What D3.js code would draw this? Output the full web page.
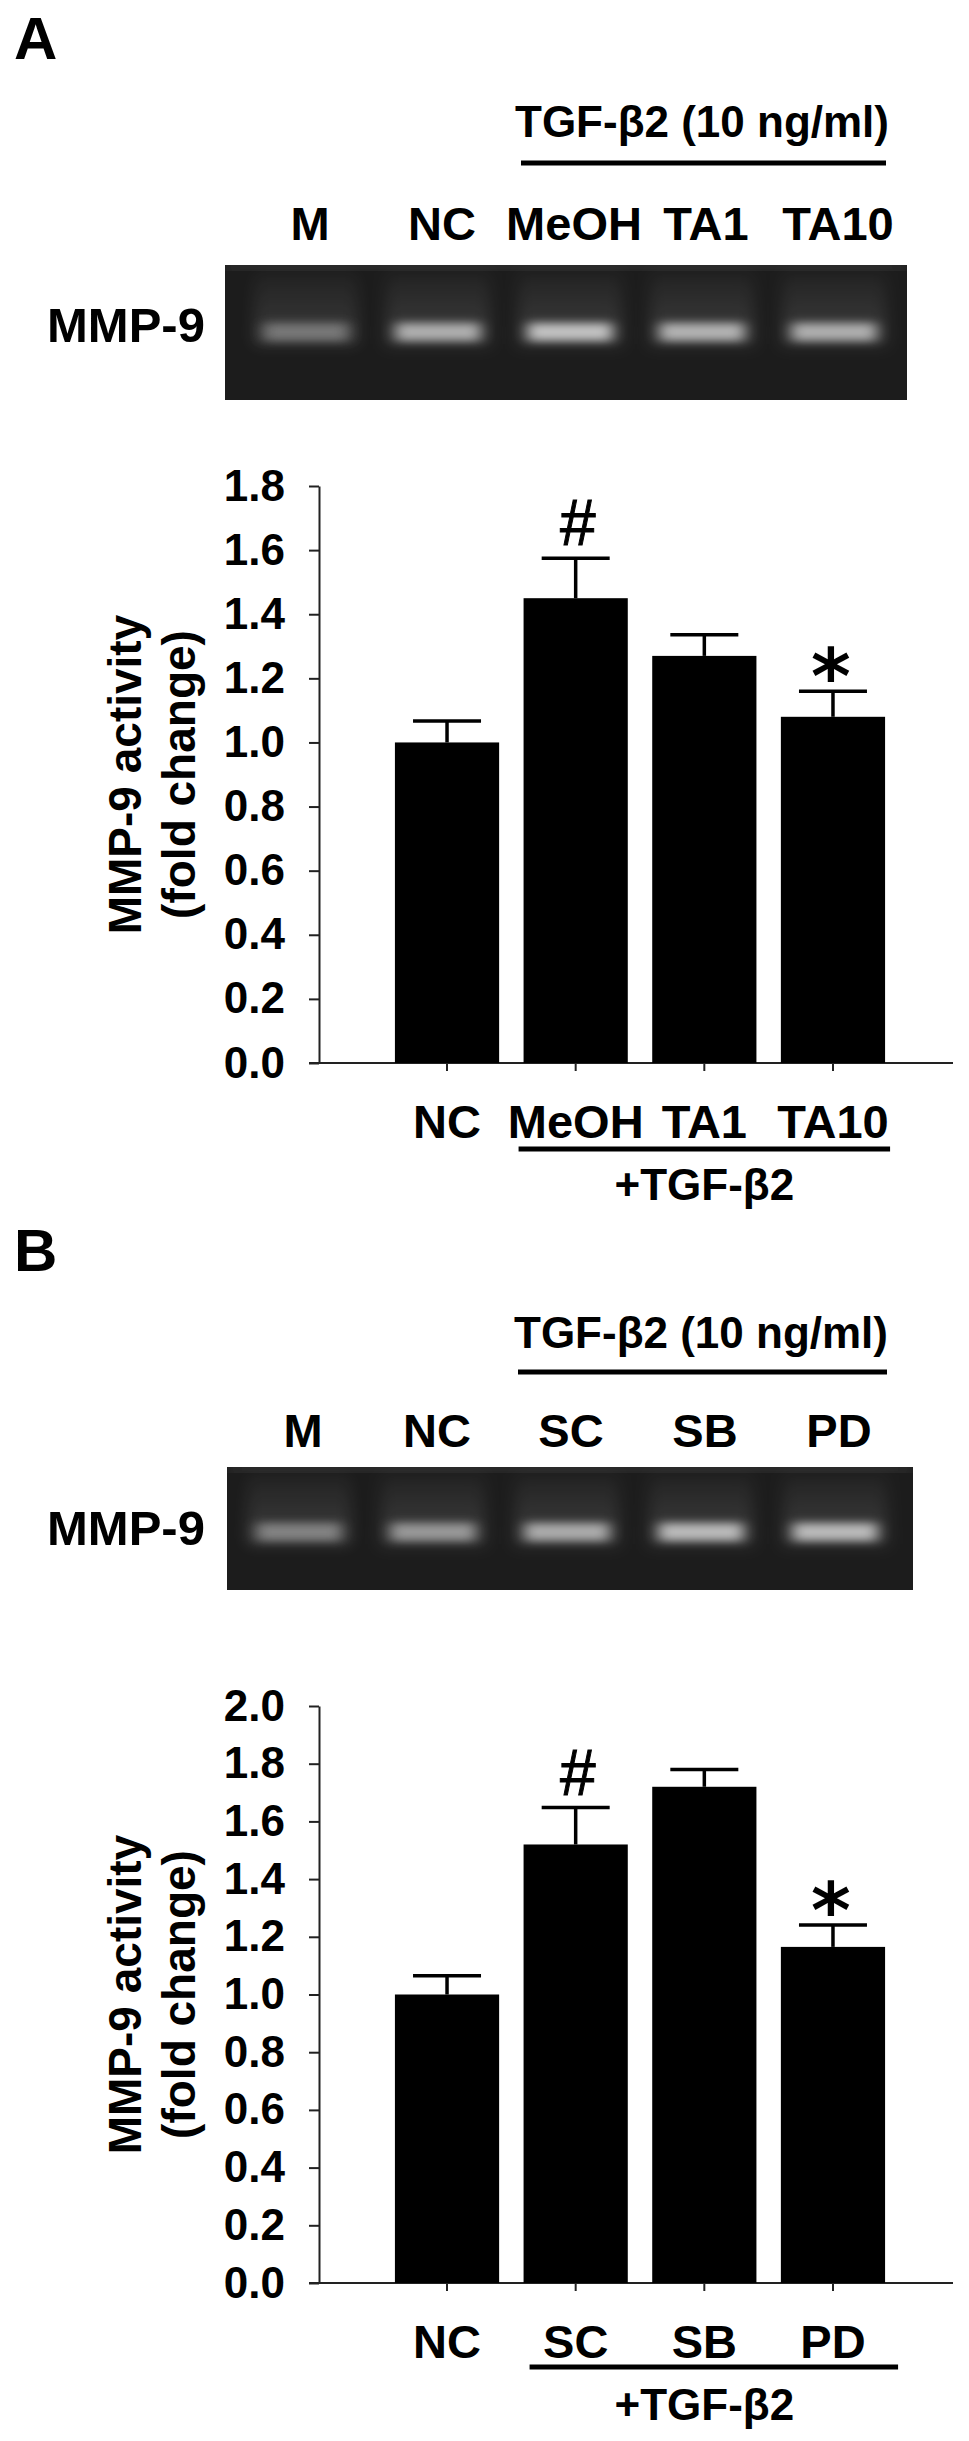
<!DOCTYPE html>
<html>
<head>
<meta charset="utf-8">
<script src="https://cdn.jsdelivr.net/npm/d3@7"></script>
<style>
  body { margin: 0; background: #fff; }
  svg text { font-family: 'Liberation Sans', Arial, sans-serif; font-weight: bold; fill: #000; }
</style>
</head>
<body>
<div id="chart"></div>
<script>
// ---- data ----
const laneLabelsA = ['M', 'NC', 'MeOH', 'TA1', 'TA10'];
const bandLevelsA = [0.42, 0.72, 0.82, 0.74, 0.72];
const groupsA = ['NC', 'MeOH', 'TA1', 'TA10'];
const meansA = [1.00, 1.45, 1.27, 1.08];
const errorsA = [0.067, 0.125, 0.066, 0.08];
const marksA = ['', '#', '', '*'];
const ticksA = [0.0, 0.2, 0.4, 0.6, 0.8, 1.0, 1.2, 1.4, 1.6, 1.8];

const laneLabelsB = ['M', 'NC', 'SC', 'SB', 'PD'];
const bandLevelsB = [0.48, 0.6, 0.7, 0.78, 0.78];
const groupsB = ['NC', 'SC', 'SB', 'PD'];
const meansB = [1.00, 1.52, 1.72, 1.165];
const errorsB = [0.065, 0.128, 0.06, 0.076];
const marksB = ['', '#', '', '*'];
const ticksB = [0.0, 0.2, 0.4, 0.6, 0.8, 1.0, 1.2, 1.4, 1.6, 1.8, 2.0];

const treatment = 'TGF-β2 (10 ng/ml)';
const groupTitle = '+TGF-β2';
const gelName = 'MMP-9';
const yTitle = ['MMP-9 activity', '(fold change)'];

const width = 969;
const height = 2441;

const svg = d3.select('#chart')
  .append('svg')
  .attr('width', width)
  .attr('height', height)

const defs = svg.append('defs')
defs.append('filter').attr('id', 'blurBand')
  .attr('x', '-30%').attr('y', '-150%').attr('width', '160%').attr('height', '400%')
  .append('feGaussianBlur').attr('stdDeviation', '7 4.5')
defs.append('filter').attr('id', 'blurHaze')
  .attr('x', '-30%').attr('y', '-50%').attr('width', '160%').attr('height', '200%')
  .append('feGaussianBlur').attr('stdDeviation', 8)

const hazeGrad = defs.append('linearGradient')
  .attr('id', 'hazeGrad')
  .attr('x1', 0).attr('x2', 0).attr('y1', 0).attr('y2', 1)
hazeGrad.append('stop').attr('offset', '0%').attr('stop-color', '#fff').attr('stop-opacity', 0.03)
hazeGrad.append('stop').attr('offset', '100%').attr('stop-color', '#fff').attr('stop-opacity', 0.15)

// layout of each panel (pixels), data comes from the arrays above
const panels = [
  {
    id: 'A', letterY: 59, treatY: 137, treatLineY: 163,
    lanes: laneLabelsA, bands: bandLevelsA, laneRange: [240, 900], laneY: 240,
    gel: [225, 907, 265, 400], bandY: 332, gelNameY: 342,
    groups: groupsA, means: meansA, errors: errorsA, marks: marksA, ticks: ticksA,
    yTop: 486, yBottom: 1063, yMax: 1.8,
    groupLineY: 1149, groupPad: [5, 5], groupTitleY: 1200
  },
  {
    id: 'B', letterY: 1271, treatY: 1348, treatLineY: 1372,
    lanes: laneLabelsB, bands: bandLevelsB, laneRange: [232, 902], laneY: 1447,
    gel: [227, 913, 1467, 1590], bandY: 1532, gelNameY: 1545,
    groups: groupsB, means: meansB, errors: errorsB, marks: marksB, ticks: ticksB,
    yTop: 1706, yBottom: 2283, yMax: 2.0,
    groupLineY: 2367, groupPad: [-6, 13], groupTitleY: 2420
  }
];

const axisLeft = 319;
const axisRight = 953;
const grey = d3.interpolateRgb('#2a2a2a', '#e2e2e2');

panels.forEach((p) => {
  const g = svg.append('g').attr('class', 'panel-' + p.id)

  g.append('text')
    .attr('x', 14)
    .attr('y', p.letterY)
    .style('font-size', '60px')
    .text(p.id)

  // ---- gel picture ----
  const lane = d3.scaleBand()
    .domain(p.lanes)
    .range(p.laneRange)
  const laneX = (d) => lane(d) + lane.bandwidth() / 2
  const [gx0, gx1, gy0, gy1] = p.gel

  g.append('text')
    .attr('x', (laneX(p.lanes[2]) + laneX(p.lanes[4])) / 2)
    .attr('y', p.treatY)
    .attr('text-anchor', 'middle')
    .style('font-size', '44px')
    .text(treatment)

  g.append('line')
    .attr('x1', laneX(p.lanes[2]) - 49)
    .attr('x2', laneX(p.lanes[4]) + 52)
    .attr('y1', p.treatLineY)
    .attr('y2', p.treatLineY)
    .attr('stroke', '#000')
    .attr('stroke-width', 5)

  g.selectAll('.lane-label')
    .data(p.lanes)
    .enter()
    .append('text')
    .attr('class', 'lane-label')
    .attr('x', (d) => laneX(d) + 4)
    .attr('y', p.laneY)
    .attr('text-anchor', 'middle')
    .style('font-size', '47px')
    .text((d) => d)

  g.append('text')
    .attr('x', 47)
    .attr('y', p.gelNameY)
    .style('font-size', '49px')
    .text(gelName)

  const clipId = 'gelClip' + p.id
  defs.append('clipPath').attr('id', clipId)
    .append('rect')
    .attr('x', gx0).attr('y', gy0)
    .attr('width', gx1 - gx0).attr('height', gy1 - gy0)

  const gel = g.append('g').attr('clip-path', `url(#${clipId})`)

  gel.append('rect')
    .attr('x', gx0).attr('y', gy0)
    .attr('width', gx1 - gx0).attr('height', gy1 - gy0)
    .attr('fill', '#1c1c1c')

  gel.append('rect')
    .attr('x', gx0).attr('y', gy0)
    .attr('width', gx1 - gx0).attr('height', 4)
    .attr('fill', '#555')
    .attr('filter', 'url(#blurHaze)')

  gel.selectAll('.haze')
    .data(p.lanes)
    .enter()
    .append('rect')
    .attr('class', 'haze')
    .attr('x', (d) => laneX(d) - 52)
    .attr('y', gy0 + 8)
    .attr('width', 104)
    .attr('height', p.bandY - gy0 + 4)
    .attr('fill', 'url(#hazeGrad)')
    .attr('opacity', (d, i) => 0.5 + p.bands[i])
    .attr('filter', 'url(#blurHaze)')

  gel.selectAll('.band')
    .data(p.lanes)
    .enter()
    .append('rect')
    .attr('class', 'band')
    .attr('x', (d) => laneX(d) - 42)
    .attr('y', p.bandY - 9)
    .attr('width', 84)
    .attr('height', 18)
    .attr('fill', (d, i) => grey(p.bands[i]))
    .attr('filter', 'url(#blurBand)')

  // ---- bar chart ----
  const xScale = d3.scaleBand()
    .domain(p.groups)
    .range([382.7, 897.3])
    .paddingInner(0.19)
    .paddingOuter(0.095)

  const yScale = d3.scaleLinear()
    .domain([0, p.yMax])
    .range([p.yBottom, p.yTop])

  const rows = p.groups.map((name, i) => ({
    name, mean: p.means[i], err: p.errors[i], mark: p.marks[i]
  }))
  const cx = (d) => xScale(d.name) + xScale.bandwidth() / 2

  const yAxis = d3.axisLeft(yScale)
    .tickValues(p.ticks)
    .tickFormat(d3.format('.1f'))
    .tickSize(10)
    .tickSizeOuter(0)
    .tickPadding(24)

  g.append('g')
    .attr('class', 'y-axis')
    .attr('transform', `translate(${axisLeft}, 0)`)
    .call(yAxis)
    .call((s) => s.selectAll('path, line').attr('stroke', '#222').attr('stroke-width', 2))
    .call((s) => s.selectAll('text')
      .attr('fill', '#000')
      .style('font-size', '44px')
      .style('font-family', "'Liberation Sans', Arial, sans-serif")
      .style('font-weight', 'bold'))

  const xAxis = d3.axisBottom(xScale)
    .tickSize(8)
    .tickSizeOuter(0)
    .tickPadding(34)

  g.append('g')
    .attr('class', 'x-axis')
    .attr('transform', `translate(0, ${p.yBottom})`)
    .call(xAxis)
    .call((s) => s.select('.domain').remove())
    .call((s) => s.selectAll('line').attr('stroke', '#222').attr('stroke-width', 2))
    .call((s) => s.selectAll('text')
      .attr('fill', '#000')
      .style('font-size', '47px')
      .style('font-family', "'Liberation Sans', Arial, sans-serif")
      .style('font-weight', 'bold'))

  g.append('line')
    .attr('x1', axisLeft - 10)
    .attr('x2', axisRight)
    .attr('y1', yScale(0))
    .attr('y2', yScale(0))
    .attr('stroke', '#222')
    .attr('stroke-width', 2)

  g.selectAll('.bar')
    .data(rows)
    .enter()
    .append('rect')
    .attr('class', 'bar')
    .attr('x', (d) => xScale(d.name))
    .attr('y', (d) => yScale(d.mean))
    .attr('width', xScale.bandwidth())
    .attr('height', (d) => yScale(0) - yScale(d.mean))
    .attr('fill', '#000')

  const err = g.selectAll('.err')
    .data(rows)
    .enter()
    .append('g')
    .attr('class', 'err')
    .attr('stroke', '#000')
    .attr('stroke-width', 3.5)

  err.append('line')
    .attr('x1', cx).attr('x2', cx)
    .attr('y1', (d) => yScale(d.mean))
    .attr('y2', (d) => yScale(d.mean + d.err))

  err.append('line')
    .attr('x1', (d) => cx(d) - 34).attr('x2', (d) => cx(d) + 34)
    .attr('y1', (d) => yScale(d.mean + d.err))
    .attr('y2', (d) => yScale(d.mean + d.err))

  g.selectAll('.hash')
    .data(rows.filter((d) => d.mark === '#'))
    .enter()
    .append('text')
    .attr('class', 'hash')
    .attr('x', (d) => cx(d) + 2)
    .attr('y', (d) => yScale(d.mean + d.err) - 13)
    .attr('text-anchor', 'middle')
    .style('font-size', '64px')
    .style('font-weight', 'normal')
    .style('stroke', '#000')
    .style('stroke-width', 1)
    .text((d) => d.mark)

  g.selectAll('.star')
    .data(rows.filter((d) => d.mark === '*'))
    .enter()
    .append('text')
    .attr('class', 'star')
    .attr('x', (d) => cx(d) - 2)
    .attr('y', (d) => yScale(d.mean + d.err) + 12)
    .attr('text-anchor', 'middle')
    .style('font-size', '76px')
    .style('font-family', "'DejaVu Sans', sans-serif")
    .text((d) => d.mark)

  // y title, two rotated lines
  const midY = (p.yTop + p.yBottom) / 2
  g.selectAll('.y-title')
    .data(yTitle)
    .enter()
    .append('text')
    .attr('class', 'y-title')
    .attr('transform', (d, i) => `translate(${i ? 195 : 141}, ${midY}) rotate(-90)`)
    .attr('text-anchor', 'middle')
    .style('font-size', '46px')
    .text((d) => d)

  // bracket for TGF-treated groups
  const first = rows[1]
  const last = rows[rows.length - 1]
  g.append('line')
    .attr('x1', xScale(first.name) - p.groupPad[0])
    .attr('x2', xScale(last.name) + xScale.bandwidth() + p.groupPad[1])
    .attr('y1', p.groupLineY)
    .attr('y2', p.groupLineY)
    .attr('stroke', '#000')
    .attr('stroke-width', 5)

  g.append('text')
    .attr('x', (cx(first) + cx(last)) / 2)
    .attr('y', p.groupTitleY)
    .attr('text-anchor', 'middle')
    .style('font-size', '44px')
    .text(groupTitle)
});
</script>
</body>
</html>
